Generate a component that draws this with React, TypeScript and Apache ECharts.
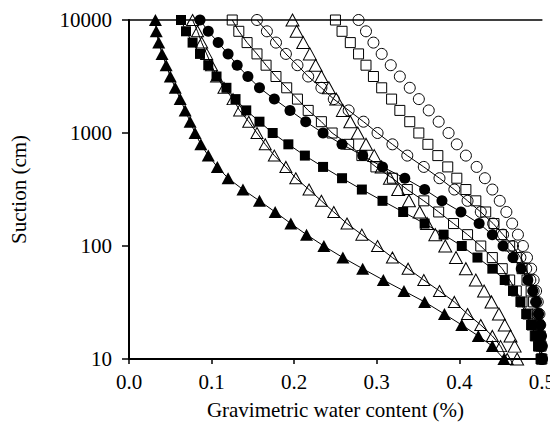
import React, { useEffect, useRef } from "react";
import * as echarts from "echarts";

// Suction (cm), log-spaced sampling points of the curves
const suction = [10000, 7943, 6310, 5012, 3981, 3162, 2512, 1995, 1585, 1259, 1000, 794, 631, 501, 398, 316, 251, 200, 158, 126, 100, 79, 63, 50, 40, 32, 25, 20, 16, 13, 10];

// Gravimetric water content for each curve (same order as suction)
const triFilled = [0.032, 0.033, 0.036, 0.040, 0.045, 0.050, 0.056, 0.062, 0.068, 0.074, 0.080, 0.087, 0.096, 0.107, 0.120, 0.138, 0.158, 0.177, 0.196, 0.215, 0.236, 0.259, 0.283, 0.308, 0.333, 0.358, 0.382, 0.403, 0.423, 0.440, 0.454];
const sqFilled = [0.063, 0.069, 0.077, 0.086, 0.096, 0.106, 0.118, 0.129, 0.142, 0.158, 0.174, 0.193, 0.213, 0.235, 0.258, 0.282, 0.307, 0.332, 0.358, 0.381, 0.403, 0.422, 0.440, 0.455, 0.465, 0.474, 0.481, 0.487, 0.492, 0.496, 0.499];
const triLined = [0.077, 0.083, 0.088, 0.094, 0.100, 0.106, 0.115, 0.126, 0.134, 0.145, 0.155, 0.165, 0.176, 0.190, 0.202, 0.218, 0.233, 0.248, 0.264, 0.282, 0.301, 0.319, 0.338, 0.357, 0.376, 0.394, 0.410, 0.426, 0.440, 0.450, 0.458];
const circFilled = [0.086, 0.096, 0.108, 0.120, 0.131, 0.144, 0.158, 0.176, 0.195, 0.214, 0.235, 0.258, 0.283, 0.307, 0.334, 0.358, 0.379, 0.402, 0.424, 0.440, 0.453, 0.465, 0.475, 0.483, 0.489, 0.493, 0.496, 0.498, 0.499, 0.500, 0.500];
const sqLined = [0.125, 0.133, 0.143, 0.155, 0.166, 0.178, 0.191, 0.204, 0.217, 0.233, 0.246, 0.266, 0.282, 0.299, 0.319, 0.337, 0.357, 0.375, 0.393, 0.410, 0.426, 0.440, 0.452, 0.461, 0.469, 0.476, 0.483, 0.488, 0.492, 0.496, 0.499];
const circLined = [0.155, 0.167, 0.178, 0.190, 0.204, 0.217, 0.233, 0.248, 0.266, 0.284, 0.301, 0.319, 0.337, 0.357, 0.376, 0.394, 0.410, 0.426, 0.441, 0.453, 0.465, 0.474, 0.481, 0.486, 0.490, 0.493, 0.495, 0.497, 0.498, 0.499, 0.500];
const triOpen = [0.198, 0.203, 0.211, 0.219, 0.226, 0.233, 0.242, 0.251, 0.259, 0.268, 0.277, 0.287, 0.297, 0.306, 0.316, 0.326, 0.339, 0.352, 0.361, 0.371, 0.383, 0.396, 0.408, 0.420, 0.430, 0.439, 0.448, 0.455, 0.462, 0.467, 0.470];
const sqOpen = [0.250, 0.258, 0.268, 0.278, 0.287, 0.296, 0.306, 0.318, 0.328, 0.340, 0.351, 0.362, 0.374, 0.386, 0.397, 0.408, 0.420, 0.432, 0.442, 0.451, 0.461, 0.469, 0.476, 0.482, 0.487, 0.490, 0.494, 0.496, 0.498, 0.499, 0.500];
const circOpen = [0.278, 0.287, 0.296, 0.306, 0.317, 0.328, 0.340, 0.351, 0.363, 0.375, 0.387, 0.397, 0.408, 0.421, 0.431, 0.440, 0.449, 0.457, 0.464, 0.471, 0.477, 0.482, 0.487, 0.490, 0.493, 0.495, 0.497, 0.498, 0.499, 0.500, 0.500];

const xTicks = [0.0, 0.1, 0.2, 0.3, 0.4, 0.5];
const yTicks = [10, 100, 1000, 10000];

const FONT = "Liberation Serif";

export default function App() {
  const ref = useRef<HTMLDivElement>(null);
  useEffect(() => {
    if (!ref.current) return;
    const chart = echarts.init(ref.current, null, { renderer: "svg" });
    const pair = (xs: number[]) => xs.map((x, i) => [x, suction[i]]);

    const mk = (
      name: string,
      xs: number[],
      symbol: string,
      size: number | number[],
      filled: boolean,
      lined: boolean
    ) => ({
      name,
      type: "line",
      data: pair(xs),
      symbol,
      symbolSize: size,
      showSymbol: true,
      showAllSymbol: true,
      lineStyle: { color: "#000", width: lined ? 1 : 0, opacity: lined ? 1 : 0 },
      itemStyle: {
        color: filled ? "#000" : "rgba(0,0,0,0)",
        borderColor: "#000",
        borderWidth: filled ? 0 : 1,
      },
      emphasis: { disabled: true },
      silent: true,
      z: 3,
    });

    chart.setOption({
      animation: false,
      grid: { left: 119, right: 12, top: 20, bottom: 72, containLabel: false },
      xAxis: [
        {
          type: "value",
          min: 0,
          max: 0.5,
          interval: 0.1,
          position: "bottom",
          name: "Gravimetric water content (%)",
          nameLocation: "middle",
          nameGap: 40,
          nameTextStyle: { fontFamily: FONT, fontSize: 21, color: "#000" },
          axisLine: { lineStyle: { color: "#000", width: 2 } },
          axisTick: { show: true, inside: false, length: 5, lineStyle: { color: "#000", width: 1.5 } },
          axisLabel: {
            fontFamily: FONT,
            fontSize: 21,
            color: "#000",
            margin: 12,
            formatter: (v: number) => {
              const t = xTicks.find((k) => Math.abs(k - v) < 1e-9);
              return t === undefined ? "" : t.toFixed(1);
            },
          },
          splitLine: { show: false },
        },
        {
          type: "value",
          min: 0,
          max: 0.5,
          position: "top",
          axisLine: { show: true, lineStyle: { color: "#000", width: 1.5 } },
          axisTick: { show: false },
          axisLabel: { show: false },
          splitLine: { show: false },
        },
      ],
      yAxis: {
        type: "log",
        logBase: 10,
        min: 10,
        max: 10000,
        name: "Suction (cm)",
        nameLocation: "middle",
        nameGap: 100,
        nameRotate: 90,
        nameTextStyle: { fontFamily: FONT, fontSize: 21, color: "#000" },
        axisLine: { show: true, lineStyle: { color: "#000", width: 2 } },
        axisTick: { show: true, inside: false, length: 7, lineStyle: { color: "#000", width: 1.5 } },
        minorTick: { show: false },
        axisLabel: {
          fontFamily: FONT,
          fontSize: 21,
          color: "#000",
          margin: 17,
          formatter: (v: number) => {
            const t = yTicks.find((k) => Math.abs(k - v) < 1e-6 * k);
            return t === undefined ? "" : String(t);
          },
        },
        splitLine: { show: false },
      },
      series: [
        mk("triFilled", triFilled, "triangle", [13, 12], true, true),
        mk("sqFilled", sqFilled, "rect", 10, true, true),
        mk("triLined", triLined, "triangle", [12, 11], false, true),
        mk("circFilled", circFilled, "circle", 11, true, true),
        mk("sqLined", sqLined, "rect", 10, false, true),
        mk("circLined", circLined, "circle", 11, false, true),
        mk("triOpen", triOpen, "triangle", [13, 12], false, false),
        mk("sqOpen", sqOpen, "rect", 10, false, false),
        mk("circOpen", circOpen, "circle", 11, false, false),
      ],
    });
    return () => chart.dispose();
  }, []);
  return <div ref={ref} style={{ width: 558, height: 431, margin: -8 }} />;
}
